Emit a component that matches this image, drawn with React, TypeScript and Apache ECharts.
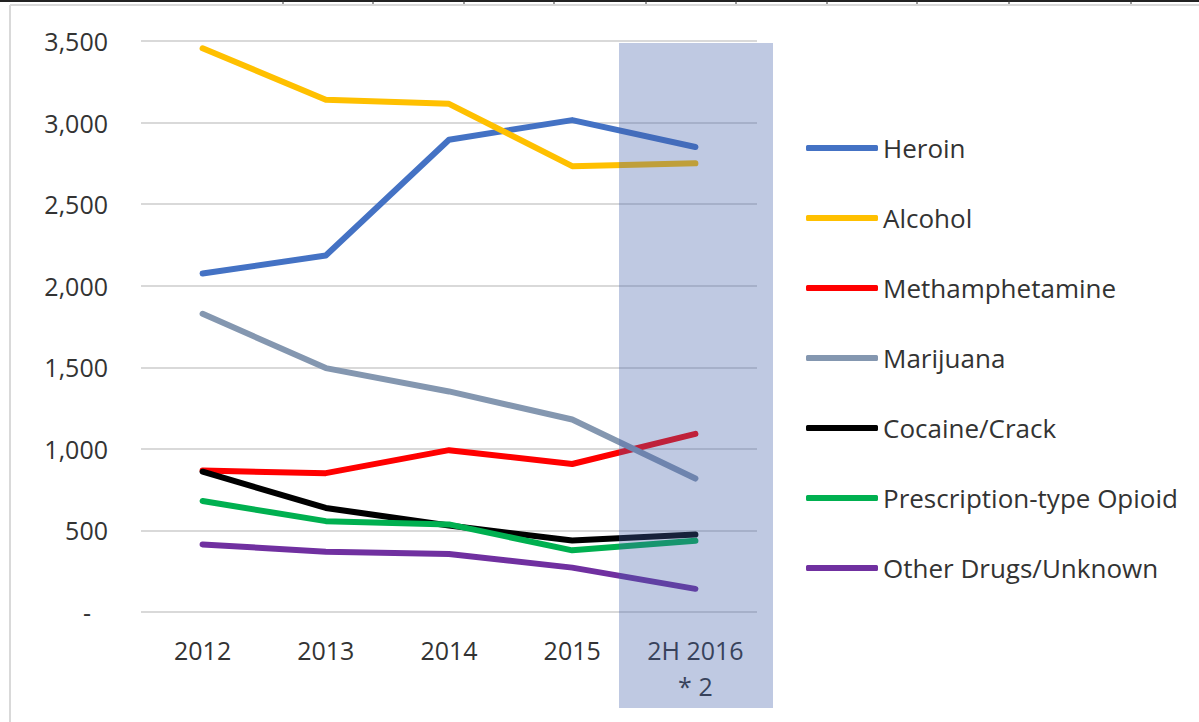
import React, { useEffect, useRef } from "react";
import * as echarts from "echarts";

const categories = ["2012", "2013", "2014", "2015", "2H 2016\n* 2"];
const heroin = [2075, 2185, 2895, 3015, 2850];
const alcohol = [3455, 3140, 3115, 2733, 2750];
const methamphetamine = [867, 851, 992, 907, 1092];
const marijuana = [1828, 1495, 1352, 1180, 818];
const cocaine = [860, 638, 530, 438, 475];
const opioid = [680, 557, 537, 378, 437];
const other = [414, 370, 355, 272, 142];
const yTicks = { min: 0, max: 3500, interval: 500 };

const seriesDefs = [
  { name: "Heroin", data: heroin, color: "#4472C4" },
  { name: "Alcohol", data: alcohol, color: "#FFC000" },
  { name: "Methamphetamine", data: methamphetamine, color: "#FF0000" },
  { name: "Marijuana", data: marijuana, color: "#8497B0" },
  { name: "Cocaine/Crack", data: cocaine, color: "#000000" },
  { name: "Prescription-type Opioid", data: opioid, color: "#00B050" },
  { name: "Other Drugs/Unknown", data: other, color: "#7030A0" },
];

const topTicks = [283, 373, 464, 554, 646, 736, 827, 917, 1009, 1131];
const FONT = "'Open Sans', sans-serif";

export default function App() {
  const ref = useRef<HTMLDivElement>(null);
  useEffect(() => {
    if (!ref.current) return;
    const chart = echarts.init(ref.current, null, { renderer: "svg" });
    chart.setOption({
      animation: false,
      backgroundColor: "#ffffff",
      grid: { left: 141, right: 442, top: 41, bottom: 110, containLabel: false },
      xAxis: {
        type: "category",
        data: categories,
        boundaryGap: true,
        axisLine: { show: false },
        axisTick: { show: false },
        axisLabel: {
          color: "#333333",
          fontFamily: FONT,
          fontSize: 25,
          lineHeight: 36,
          margin: 20,
          interval: 0,
        },
        splitLine: { show: false },
      },
      yAxis: {
        type: "value",
        min: yTicks.min,
        max: yTicks.max,
        interval: yTicks.interval,
        axisLine: { show: false },
        axisTick: { show: false },
        splitLine: { lineStyle: { color: "#D9D9D9", width: 2 } },
        axisLabel: {
          color: "#333333",
          fontFamily: FONT,
          fontSize: 25,
          margin: 33,
          formatter: (v: number) =>
            v === 0 ? "{d|-}" : v.toLocaleString("en-US"),
          rich: { d: { padding: [0, 17, 0, 0], fontSize: 25, fontFamily: FONT, color: "#333333" } },
        },
      },
      legend: {
        orient: "vertical",
        left: 806,
        top: 133,
        padding: 0,
        itemWidth: 72,
        itemHeight: 6,
        itemGap: 40,
        icon: "roundRect",
        textStyle: { color: "#333333", fontFamily: FONT, fontSize: 26, lineHeight: 30 },
        data: seriesDefs.map((s) => s.name),
      },
      series: seriesDefs.map((s) => ({
        name: s.name,
        type: "line",
        data: s.data,
        showSymbol: false,
        symbol: "none",
        color: s.color,
        lineStyle: { width: 6, color: s.color, cap: "round", join: "round" },
      })),
      graphic: [
        {
          type: "rect",
          z: 100,
          silent: true,
          shape: { x: 619, y: 43, width: 154, height: 665 },
          style: { fill: "rgba(67,96,170,0.34)" },
        },
        {
          type: "line",
          z: 100,
          shape: { x1: 0, y1: 1, x2: 1199, y2: 1 },
          style: { stroke: "#222222", lineWidth: 2 },
        },
        ...topTicks.map((x) => ({
          type: "line",
          z: 100,
          shape: { x1: x, y1: 0, x2: x, y2: 4 },
          style: { stroke: "#333333", lineWidth: 1 },
        })),
        {
          type: "line",
          z: 100,
          shape: { x1: 10, y1: 5, x2: 1199, y2: 5 },
          style: { stroke: "#D9D9D9", lineWidth: 2 },
        },
        {
          type: "line",
          z: 100,
          shape: { x1: 10, y1: 5, x2: 10, y2: 722 },
          style: { stroke: "#D9D9D9", lineWidth: 2 },
        },
      ],
    });
    return () => chart.dispose();
  }, []);
  return (
    <div
      ref={ref}
      style={{ position: "fixed", left: 0, top: 0, width: 1199, height: 722 }}
    />
  );
}
